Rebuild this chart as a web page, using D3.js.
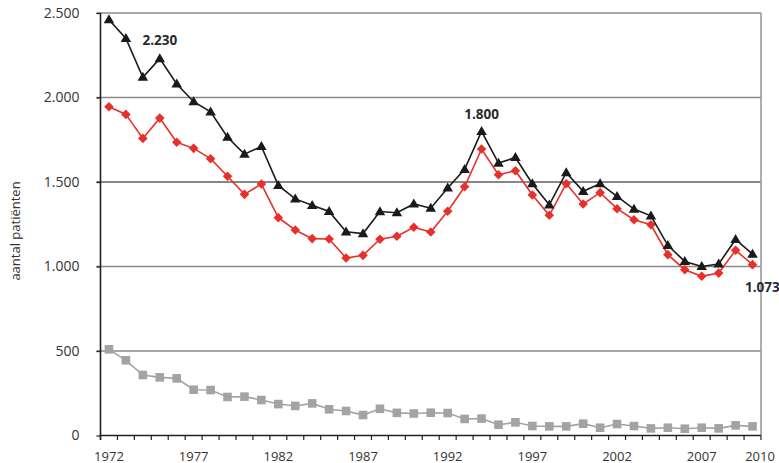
<!DOCTYPE html>
<html><head><meta charset="utf-8">
<script src="https://cdn.jsdelivr.net/npm/d3@7"></script>
<style>
body{margin:0;background:#fff;}
text{font-family:"Open Sans",sans-serif;}
</style></head>
<body><svg id="c" width="779" height="463"></svg>
<script>
const years = d3.range(1972, 2011);
const totaal = [2460,2350,2120,2230,2080,1975,1915,1765,1665,1710,1480,1400,1362,1326,1205,1195,1325,1318,1370,1345,1465,1575,1800,1612,1645,1490,1365,1555,1445,1490,1415,1340,1300,1125,1030,1000,1015,1160,1073];
const rood = [1945,1900,1758,1878,1735,1699,1638,1534,1427,1488,1289,1216,1165,1163,1050,1066,1161,1179,1232,1204,1327,1472,1695,1543,1567,1423,1303,1490,1370,1437,1342,1277,1247,1070,981,942,961,1096,1011];
const grijs = [510,445,358,344,338,271,269,228,230,210,186,175,190,155,145,121,158,134,130,135,133,98,100,64,78,56,54,54,70,46,68,56,42,46,40,46,42,60,54];
const yTicks = [0,500,1000,1500,2000,2500];
const xLabelYears = [1972,1977,1982,1987,1992,1997,2002,2007,2010];
const annotations = [{year:1975, value:2230, text:"2.230"},{year:1994, value:1800, text:"1.800"},{year:2010, value:1073, text:"1.073"}];
const yTitle = "aantal patiënten";

const svg = d3.select("#c");
const x = d3.scaleBand().domain(years).range([100.5, 761]).padding(0);
const y = d3.scaleLinear().domain([0, 2500]).range([435.5, 13]);
const cx = d => x(d) + x.bandwidth()/2;
const fmt = v => d3.format(",")(v).replace(/,/g, ".");

// gridlines
svg.append("g").selectAll("line").data(yTicks.filter(v => v > 0)).join("line")
  .attr("x1", 96.5).attr("x2", 761).attr("y1", d => y(d)).attr("y2", d => y(d))
  .attr("stroke", d => d === 1500 ? "#111" : "#8a8a8a").attr("stroke-width", d => d === 1500 ? 1.2 : 1.6);
// right border
svg.append("line").attr("x1", 761).attr("x2", 761).attr("y1", y(2500)).attr("y2", y(0))
  .attr("stroke", "#9a9a9a").attr("stroke-width", 1.6);

// y axis
const yAxis = svg.append("g").attr("transform", "translate(100.5,0)")
  .call(d3.axisLeft(y).tickValues(yTicks).tickSize(4).tickPadding(16).tickFormat(fmt));
yAxis.select(".domain").attr("stroke", "#222").attr("stroke-width", 1.6).attr("d", `M0,${y(2500)}V${y(0)+4.5}`);
yAxis.selectAll(".tick line").attr("stroke", "#222").attr("stroke-width", 1.3);
yAxis.selectAll(".tick text").attr("font-size", 14).attr("fill", "#333").attr("font-family", "Open Sans, sans-serif").attr("dx", -1);

// x axis
const xg = svg.append("g");
xg.append("line").attr("x1", 100.5).attr("x2", 761).attr("y1", y(0)).attr("y2", y(0)).attr("stroke", "#222").attr("stroke-width", 1.6);
xg.selectAll("line.t").data(d3.range(years.length + 1)).join("line").attr("class", "t")
  .attr("x1", i => 100.5 + i * x.bandwidth()).attr("x2", i => 100.5 + i * x.bandwidth())
  .attr("y1", y(0)).attr("y2", y(0) + 4.5).attr("stroke", "#222").attr("stroke-width", 1.2);
xg.selectAll("text").data(xLabelYears).join("text")
  .attr("x", d => d === 2010 ? x.range()[1] - 1 : cx(d)).attr("y", 460.5)
  .attr("text-anchor", "middle").attr("font-size", 13).attr("fill", "#333").text(d => d);

// y title
svg.append("text").attr("transform", "translate(20,231) rotate(-90)").attr("text-anchor", "middle")
  .attr("font-size", 13).attr("fill", "#333").text(yTitle);

function series(vals, color, shape, size) {
  const data = years.map((yr, i) => [yr, vals[i]]);
  svg.append("path").datum(data).attr("fill", "none").attr("stroke", color).attr("stroke-width", 1.6)
    .attr("d", d3.line().x(d => cx(d[0])).y(d => y(d[1])));
  svg.append("g").selectAll("path").data(data).join("path")
    .attr("transform", d => `translate(${cx(d[0])},${y(d[1])})`)
    .attr("d", d3.symbol().type(shape).size(size)).attr("fill", color);
}
series(grijs, "#a3a3a6", d3.symbolSquare, 74);
const dia = {draw(ctx, s){ const r = 4.8; ctx.moveTo(0, -r); ctx.lineTo(r, 0); ctx.lineTo(0, r); ctx.lineTo(-r, 0); ctx.closePath(); }};
series(rood, "#e8302b", dia, 1);
const tri = {draw(ctx, s){ const w = 10.5, h = 9; ctx.moveTo(0, -h*0.6); ctx.lineTo(w/2, h*0.4); ctx.lineTo(-w/2, h*0.4); ctx.closePath(); }};
series(totaal, "#1a1a1a", tri, 1);

// annotations
svg.append("g").selectAll("text").data(annotations).join("text")
  .attr("x", d => d.year === 2010 ? 745 : cx(d.year))
  .attr("y", d => d.year === 1975 ? 45 : d.year === 1994 ? 118.5 : 291.5)
  .attr("text-anchor", d => d.year === 2010 ? "start" : "middle")
  .attr("font-size", 13.5).attr("font-weight", "bold").attr("fill", "#2a2a2a").text(d => d.text);
</script></body></html>
